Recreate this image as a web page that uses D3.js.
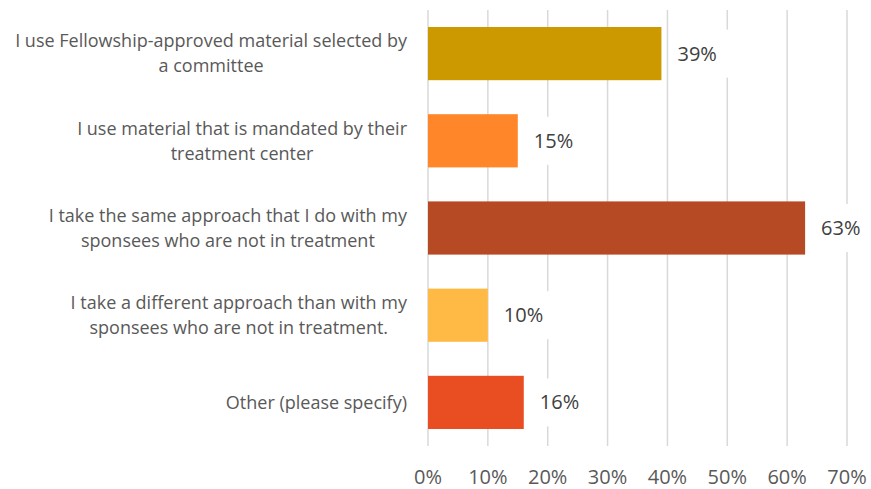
<!DOCTYPE html>
<html>
<head>
<meta charset="utf-8">
<script src="https://cdn.jsdelivr.net/npm/d3@7"></script>
<style>
  body { margin: 0; background: #fff; }
  svg { display: block; font-family: "Open Sans", "Noto Sans", sans-serif; }
</style>
</head>
<body>
<svg id="chart" width="871" height="489"></svg>
<script>
// Chart data
const categories = [
  ["I use Fellowship-approved material selected by", "a committee"],
  ["I use material that is mandated by their", "treatment center"],
  ["I take the same approach that I do with my", "sponsees who are not in treatment"],
  ["I take a different approach than with my", "sponsees who are not in treatment."],
  ["Other (please specify)"]
];
const values = [0.39, 0.15, 0.63, 0.10, 0.16];
const barColors = ["#CC9900", "#FF8629", "#B54A25", "#FFBA45", "#E84E22"];
const tickValues = [0, 0.1, 0.2, 0.3, 0.4, 0.5, 0.6, 0.7];

const plotLeft = 428, plotRight = 847, plotTop = 10, plotBottom = 446;
const labelRight = 407;

const svg = d3.select("#chart");
const keys = categories.map((d, i) => i);

const x = d3.scaleLinear().domain([0, 0.7]).range([plotLeft, plotRight]);
const y = d3.scaleBand().domain(keys).range([plotTop, plotBottom])
  .paddingInner(0.39).paddingOuter(0.195);

const pct = d3.format(".0%");

// Gridlines
svg.append("g")
  .selectAll("line")
  .data(tickValues)
  .join("line")
  .attr("x1", d => x(d)).attr("x2", d => x(d))
  .attr("y1", plotTop).attr("y2", plotBottom)
  .attr("stroke", "#d9d9d9")
  .attr("stroke-width", 1.5);

// Tick labels
svg.append("g")
  .selectAll("text")
  .data(tickValues)
  .join("text")
  .attr("x", d => x(d))
  .attr("y", 484)
  .attr("text-anchor", "middle")
  .attr("font-size", 20)
  .attr("fill", "#595959")
  .text(pct);

// Bars
svg.append("g")
  .selectAll("rect")
  .data(keys)
  .join("rect")
  .attr("x", x(0))
  .attr("y", i => y(i))
  .attr("width", i => x(values[i]) - x(0))
  .attr("height", y.bandwidth())
  .attr("fill", i => barColors[i]);

// Data labels with white backing
const lab = svg.append("g")
  .selectAll("g")
  .data(keys)
  .join("g")
  .attr("transform", i => `translate(${x(values[i]) + 16},${y(i) + y.bandwidth() / 2})`);
lab.append("rect")
  .attr("x", -7).attr("y", -24)
  .attr("width", 59).attr("height", 48)
  .attr("fill", "#fff");
lab.append("text")
  .attr("x", 0)
  .attr("dy", "0.35em")
  .attr("font-size", 20)
  .attr("fill", "#404040")
  .text(i => pct(values[i]));

// Category labels: block right-aligned, lines centred within the block
const cat = svg.append("g")
  .selectAll("text")
  .data(keys)
  .join("text")
  .attr("text-anchor", "middle")
  .attr("font-size", 18)
  .attr("fill", "#595959");
cat.each(function (i) {
  const lines = categories[i];
  const cy = y(i) + y.bandwidth() / 2;
  const lh = 25;
  const spans = d3.select(this).selectAll("tspan")
    .data(lines)
    .join("tspan")
    .attr("y", (d, k) => cy + (k - (lines.length - 1) / 2) * lh)
    .attr("dy", "0.35em")
    .text(d => d);
  let maxW = 0;
  spans.each(function () { maxW = Math.max(maxW, this.getComputedTextLength()); });
  spans.attr("x", labelRight - maxW / 2);
});
</script>
</body>
</html>
